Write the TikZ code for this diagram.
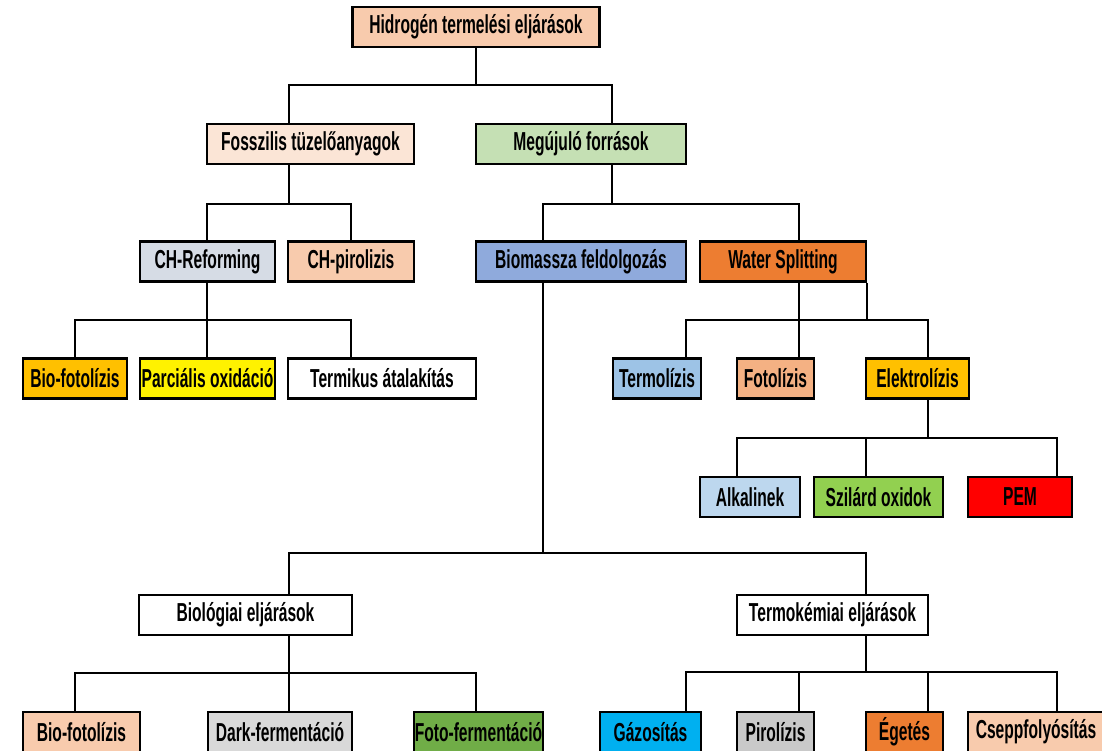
\documentclass[tikz,border=0pt]{standalone}
\usepackage{fontspec}
\setmainfont{Liberation Sans}[FakeStretch=0.6]
\usetikzlibrary{positioning}
\definecolor{peach}{HTML}{F8CBAD}
\definecolor{lightpeach}{HTML}{FBE5D6}
\definecolor{lightgreen}{HTML}{C5E0B4}
\definecolor{bluegrey}{HTML}{D6DCE5}
\definecolor{midblue}{HTML}{8FAADC}
\definecolor{darkorange}{HTML}{ED7D31}
\definecolor{gold}{HTML}{FFC000}
\definecolor{skyblue}{HTML}{9DC3E6}
\definecolor{salmon}{HTML}{F4B183}
\definecolor{paleblue}{HTML}{BDD7EE}
\definecolor{limegreen}{HTML}{92D050}
\definecolor{lightgrey}{HTML}{D9D9D9}
\definecolor{midgrey}{HTML}{C9C9C9}
\definecolor{grassgreen}{HTML}{70AD47}
\definecolor{cyanblue}{HTML}{00B0F0}
\tikzset{
  box/.style={draw,line width=2.5,rectangle,minimum height=40,inner sep=0,
    font=\fontsize{26}{28}\selectfont\bfseries},
  link/.style={line width=2}
}
\begin{document}
\begin{tikzpicture}[x=1pt,y=-1pt]
        \useasboundingbox (0,0) rectangle (1102,750);
        \node[box,fill=peach,minimum width=247] (root) at (476,27) {Hidrogén termelési eljárások};
        \node[box,fill=lightpeach,minimum width=207] (fos) at (310.5,144) {Fosszilis tüzelőanyagok};
        \node[box,fill=lightgreen,minimum width=210] (meg) at (581,144) {Megújuló források};
        \node[box,fill=bluegrey,minimum width=135] (chref) at (207.5,261.5) {CH-Reforming};
        \node[box,fill=peach,minimum width=126] (chpir) at (351,261.5) {CH-pirolizis};
        \node[box,fill=midblue,minimum width=210] (bio) at (581,261.5) {Biomassza feldolgozás};
        \node[box,fill=darkorange,minimum width=166] (ws) at (783,261.5) {Water Splitting};
        \node[box,fill=gold,minimum width=104] (bfot) at (75,378.5) {Bio-fotolízis};
        \node[box,fill=yellow,minimum width=135] (parc) at (207.5,378.5) {Parciális oxidáció};
        \node[box,fill=white,minimum width=188] (term) at (382,378.5) {Termikus átalakítás};
        \node[box,fill=skyblue,minimum width=88] (tlz) at (657,378.5) {Termolízis};
        \node[box,fill=salmon,minimum width=77] (flz) at (775.5,378.5) {Fotolízis};
        \node[box,fill=gold,minimum width=103] (elz) at (917.5,378.5) {Elektrolízis};
        \node[box,fill=paleblue,minimum width=100] (alk) at (750,497) {Alkalinek};
        \node[box,fill=limegreen,minimum width=129] (szil) at (878.5,497) {Szilárd oxidok};
        \node[box,fill=red,minimum width=104] (pem) at (1020,497) {PEM};
        \node[box,fill=white,minimum width=213] (biol) at (245.5,615) {Biológiai eljárások};
        \node[box,fill=white,minimum width=191] (termo) at (832.5,615) {Termokémiai eljárások};
        \node[box,fill=peach,minimum width=117] (bfot2) at (81.5,732) {Bio-fotolízis};
        \node[box,fill=lightgrey,minimum width=144] (dark) at (280,732) {Dark-fermentáció};
        \node[box,fill=grassgreen,minimum width=129] (foto) at (478.5,732) {Foto-fermentáció};
        \node[box,fill=cyanblue,minimum width=101] (gaz) at (650.5,732) {Gázosítás};
        \node[box,fill=midgrey,minimum width=77] (pir) at (775.5,732) {Pirolízis};
        \node[box,fill=darkorange,minimum width=77] (eget) at (904.5,732) {Égetés};
        \node[box,fill=peach,minimum width=150] (csepp) at (1043,732) {\hspace*{-14pt}Cseppfolyósítás};
        % junctions of the tree
        \coordinate (j0) at (476,85);
        \coordinate (j1) at (289,204);
        \coordinate (j2) at (612,204);
        \coordinate (j3) at (207,320);
        \coordinate (j4) at (799,320);
        \coordinate (j5) at (928,438);
        \coordinate (j6) at (543,553);
        \coordinate (j7) at (289,673);
        \coordinate (j8) at (866,672);
        \draw [link] (root.south) -- (j0);
        \draw [link] (fos.north -| 289,0) |- (j0) -| (meg.north -| 612,0);
        \draw [link] (fos.south -| j1) -- (j1);
        \draw [link] (chref.north -| j3) |- (j1) -| (chpir.north);
        \draw [link] (meg.south -| j2) -- (j2);
        \draw [link] (bio.north -| j6) |- (j2) -| (ws.north -| j4);
        \draw [link] (chref.south -| j3) -- (j3) -- (parc.north -| j3);
        \draw [link] (bfot.north) |- (j3) -| (term.north -| 351,0);
        \draw [link] (ws.south -| j4) -- (j4) -- (flz.north -| j4);
        \draw [link] (ws.south east) -- (ws.south east |- j4);
        \draw [link] (tlz.north -| 686,0) |- (j4) -| (elz.north -| j5);
        \draw [link] (elz.south -| j5) -- (j5);
        \draw [link] (alk.north -| 737,0) |- (j5) -| (pem.north -| 1057,0);
        \draw [link] (szil.north -| 866,0) |- (j5);
        \draw [link] (bio.south -| j6) -- (j6);
        \draw [link] (biol.north -| j7) |- (j6) -| (termo.north -| j8);
        \draw [link] (biol.south -| j7) -- (j7) -- (dark.north -| j7);
        \draw [link] (bfot2.north -| 75,0) |- (j7) -| (foto.north -| 476,0);
        \draw [link] (termo.south -| j8) -- (j8);
        \draw [link] (gaz.north -| 686,0) |- (j8) -| (csepp.north -| 1057,0);
        \draw [link] (pir.north -| j4) |- (j8);
        \draw [link] (eget.north -| j5) |- (j8);
      \end{tikzpicture}
\end{document}
